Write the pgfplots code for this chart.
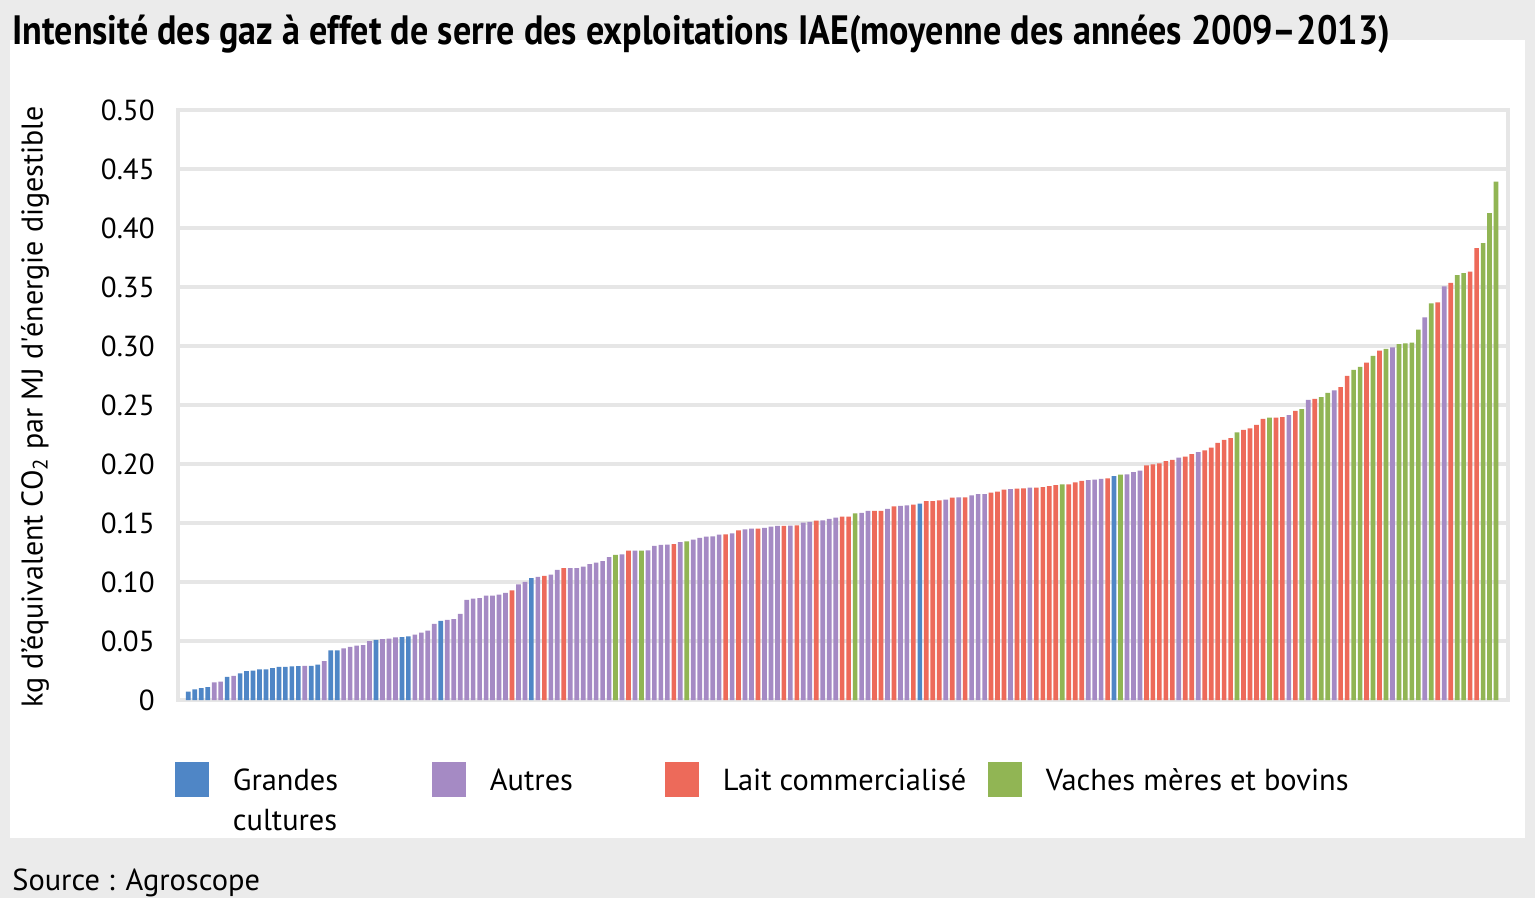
\documentclass[border=0pt]{standalone}
\usepackage{fontspec}
\setmainfont{PT Sans}
\newfontfamily\titlefont{PT Sans}[FakeStretch=0.88]
\usepackage{pgfplots}
\pgfplotsset{compat=1.18}
\definecolor{cB}{RGB}{79,134,198}
\definecolor{cP}{RGB}{165,138,196}
\definecolor{cR}{RGB}{237,106,90}
\definecolor{cG}{RGB}{145,181,84}
\definecolor{bgG}{RGB}{235,235,235}
\definecolor{gridG}{RGB}{230,230,230}
\begin{document}
\begin{tikzpicture}
\fill[bgG] (-89bp,-99bp) rectangle (678.5bp,350bp);
\fill[white] (-84bp,-69bp) rectangle (673.5bp,330bp);
\begin{axis}[
  at={(0,0)}, anchor=south west,
  scale only axis, width=665bp, height=295bp,
  xmin=-0.59, xmax=204.85, ymin=0, ymax=0.5,
  xtick=\empty,
  ytick={0,0.05,0.1,0.15,0.2,0.25,0.3,0.35,0.4,0.45,0.5},
  yticklabels={0,0.05,0.10,0.15,0.20,0.25,0.30,0.35,0.40,0.45,0.50},
  major tick length=0pt,
  /pgf/number format/assume math mode=true,
  yticklabel style={anchor=east, inner sep=0pt, xshift=-11.5bp, font=\fontsize{14.5bp}{16bp}\selectfont},
  ymajorgrids, grid style={gridG, line width=1.6bp},
  axis line style={gridG, line width=1.6bp},
  ylabel={kg d’équivalent CO\textsubscript{2} par MJ d\textquotesingle énergie digestible},
  ylabel style={at={(axis description cs:-0.1075,0.497)}, anchor=center, font=\fontsize{15bp}{17bp}\selectfont},
  ybar, bar width=0.72,
  legend columns=4,
  legend style={at={(axis description cs:-0.00226,-0.1051)}, anchor=north west, draw=none, fill=none,
    inner sep=0pt, outer sep=0pt, font=\fontsize{15.2bp}{20bp}\selectfont,
    /tikz/every odd column/.append style={column sep=10bp},
    /tikz/every even column/.append style={column sep=0pt},
    cells={anchor=base west, inner xsep=0pt}},
]
\addplot[fill=cB, draw=none, bar shift=0pt, legend image code/.code={\fill[cB] (0bp,-3.5bp) rectangle (17bp,14bp);}] coordinates {
(1,0.007)(2,0.009)(3,0.010)(4,0.011)(7,0.0195)(9,0.0225)(10,0.0245)(11,0.025)(12,0.026)(13,0.026)(14,0.027)(15,0.028)(16,0.028)(17,0.0285)(18,0.0288)(20,0.029)(21,0.030)(23,0.042)(24,0.042)(30,0.051)(34,0.0533)(35,0.054)(40,0.0671)(54,0.1032)(114,0.1664)(144,0.1898)};
\addlegendentry{\parbox[t]{97.5bp}{\raggedright Grandes\newline cultures}}
\addplot[fill=cP, draw=none, bar shift=0pt, legend image code/.code={\fill[cP] (0bp,-3.5bp) rectangle (17bp,14bp);}] coordinates {
(5,0.015)(6,0.0155)(8,0.0205)(19,0.029)(22,0.033)(25,0.0437)(26,0.045)(27,0.046)(28,0.0465)(29,0.050)(31,0.0515)(32,0.052)(33,0.053)(36,0.0555)(37,0.057)(38,0.0587)(39,0.0646)(41,0.068)(42,0.0685)(43,0.073)(44,0.0849)(45,0.086)(46,0.0863)(47,0.0885)(48,0.0885)(49,0.0894)(50,0.0908)(52,0.0979)(53,0.1001)(55,0.1043)(57,0.1063)(58,0.1103)(60,0.1117)(61,0.1117)(62,0.113)(63,0.1151)(64,0.1165)(65,0.1176)(66,0.121)(68,0.1235)(70,0.1266)(72,0.1269)(73,0.1306)(74,0.1314)(75,0.1317)(77,0.1337)(79,0.136)(80,0.1373)(81,0.1385)(82,0.1387)(83,0.1402)(85,0.1413)(87,0.1447)(88,0.1452)(90,0.1458)(91,0.1469)(92,0.1475)(94,0.1478)(96,0.1503)(97,0.1509)(99,0.1523)(100,0.1534)(101,0.1546)(105,0.1585)(106,0.1602)(109,0.1619)(111,0.1646)(112,0.165)(118,0.1698)(120,0.1717)(122,0.1734)(123,0.1745)(124,0.1745)(128,0.1788)(131,0.18)(140,0.1864)(141,0.1867)(142,0.1875)(146,0.1912)(147,0.1932)(148,0.1943)(154,0.2053)(157,0.2101)(171,0.2414)(174,0.2544)(178,0.2623)(187,0.2989)(192,0.3243)(195,0.3505)};
\addlegendentry{\makebox[85.5bp][l]{Autres}}
\addplot[fill=cR, draw=none, bar shift=0pt, legend image code/.code={\fill[cR] (0bp,-3.5bp) rectangle (17bp,14bp);}] coordinates {
(51,0.0928)(56,0.1052)(59,0.1117)(69,0.1266)(76,0.1322)(84,0.1404)(86,0.1438)(89,0.1452)(93,0.1475)(95,0.148)(98,0.152)(102,0.1554)(103,0.1554)(107,0.1602)(108,0.1602)(110,0.1641)(113,0.1655)(115,0.1686)(116,0.1686)(117,0.1692)(119,0.1715)(121,0.1717)(125,0.1757)(126,0.1765)(127,0.1782)(129,0.1791)(130,0.1794)(132,0.18)(133,0.1805)(134,0.1813)(135,0.1822)(137,0.1827)(138,0.1844)(139,0.1856)(143,0.1878)(149,0.1988)(150,0.1997)(151,0.2005)(152,0.2025)(153,0.2036)(155,0.2062)(156,0.2084)(158,0.2115)(159,0.2138)(160,0.218)(161,0.2205)(162,0.2219)(164,0.229)(165,0.2301)(166,0.2332)(167,0.2383)(169,0.2392)(170,0.2397)(172,0.2451)(175,0.2552)(179,0.2651)(180,0.2747)(183,0.286)(185,0.2961)(194,0.337)(196,0.3536)(199,0.363)(200,0.383)};
\addlegendentry{\makebox[130.5bp][l]{Lait commercialisé}}
\addplot[fill=cG, draw=none, bar shift=0pt, legend image code/.code={\fill[cG] (0bp,-3.5bp) rectangle (17bp,14bp);}] coordinates {
(67,0.123)(71,0.1266)(78,0.1345)(104,0.1582)(136,0.1827)(145,0.1909)(163,0.2267)(168,0.2392)(173,0.2465)(176,0.2566)(177,0.2603)(181,0.2798)(182,0.2823)(184,0.2916)(186,0.2975)(188,0.3015)(189,0.3023)(190,0.3029)(191,0.3139)(193,0.3362)(197,0.3601)(198,0.3618)(201,0.3872)(202,0.4126)(203,0.4394)};
\addlegendentry{Vaches mères et bovins}
\end{axis}
\node[anchor=base west, inner sep=0pt, font=\titlefont\bfseries\fontsize{20.5bp}{23bp}\selectfont] at (-83bp,327.5bp) {Intensité des gaz à effet de serre des exploitations IAE(moyenne des années 2009–2013)};
\node[anchor=base west, inner sep=0pt, font=\fontsize{15.2bp}{17bp}\selectfont] at (-83bp,-95bp) {Source : Agroscope};
\pgfresetboundingbox
\path[use as bounding box] (-89bp,-99bp) rectangle (678.5bp,350bp);
\end{tikzpicture}
\end{document}
